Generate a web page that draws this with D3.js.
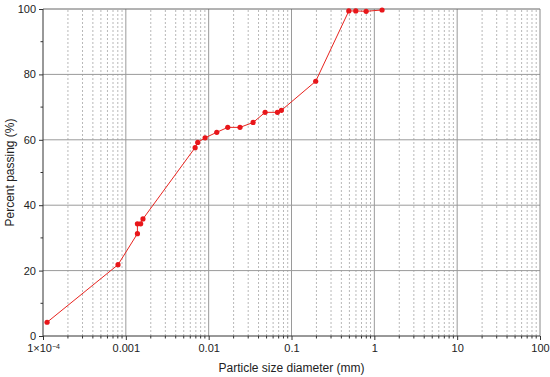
<!DOCTYPE html>
<html>
<head>
<meta charset="utf-8">
<script src="https://cdn.jsdelivr.net/npm/d3@7"></script>
<style>
  body { margin: 0; background: #fff; }
  text { font-family: "Liberation Sans", Arial, sans-serif; }
</style>
</head>
<body>
<script>
var svg_width  = 550;
var svg_height = 377;

// particle size (mm) and percent passing
var sizes   = [0.000112, 0.000805, 0.00138, 0.00138, 0.00151, 0.00161, 0.00686, 0.00738,
               0.00906, 0.01253, 0.0170, 0.0239, 0.0344, 0.048, 0.0676, 0.0755,
               0.196, 0.492, 0.597, 0.796, 1.24];
var passing = [4.2, 21.8, 31.3, 34.3, 34.3, 35.8, 57.6, 59.2,
               60.6, 62.3, 63.8, 63.8, 65.3, 68.4, 68.4, 69.0,
               77.9, 99.4, 99.4, 99.3, 99.7];

var xMajor = [1e-4, 1e-3, 1e-2, 1e-1, 1, 10, 100];
var xLabels = ["1×10", "0.001", "0.01", "0.1", "1", "10", "100"];
var yMajor = [0, 20, 40, 60, 80, 100];
var yMinor = [10, 30, 50, 70, 90];

var margin = {left: 43, right: 10, top: 9, bottom: 41};

var svg = d3.select('body').append('svg')
            .attr('width', svg_width)
            .attr('height', svg_height);

var x = d3.scaleLog()
          .domain([1e-4, 100])
          .range([margin.left, svg_width - margin.right]);
var y = d3.scaleLinear()
          .domain([0, 100])
          .range([svg_height - margin.bottom, margin.top]);

// minor ticks 2..9 for each decade
var xMinor = [];
xMajor.slice(0, -1).forEach(function(d){
    for (var k = 2; k <= 9; k++) xMinor.push(d * k);
});

var grid = svg.append("g");
grid.selectAll("line.minor")
    .data(xMinor)
    .enter().append("line")
    .attr("x1", d => x(d)).attr("x2", d => x(d))
    .attr("y1", y(0)).attr("y2", y(100))
    .attr("stroke", "#b8b8b8")
    .attr("stroke-width", 1)
    .attr("stroke-dasharray", "2,2");

grid.selectAll("line.vmajor")
    .data(xMajor.slice(1, -1))
    .enter().append("line")
    .attr("x1", d => x(d)).attr("x2", d => x(d))
    .attr("y1", y(0)).attr("y2", y(100))
    .attr("stroke", "#9a9a9a")
    .attr("stroke-width", 1);

grid.selectAll("line.hmajor")
    .data(yMajor.slice(1, -1))
    .enter().append("line")
    .attr("x1", x(1e-4)).attr("x2", x(100))
    .attr("y1", d => y(d)).attr("y2", d => y(d))
    .attr("stroke", "#9a9a9a")
    .attr("stroke-width", 1);

// frame top / right
svg.append("line")
   .attr("x1", x(1e-4)).attr("x2", x(100))
   .attr("y1", y(100)).attr("y2", y(100))
   .attr("stroke", "#666").attr("stroke-width", 1);
svg.append("line")
   .attr("x1", x(100)).attr("x2", x(100))
   .attr("y1", y(0)).attr("y2", y(100))
   .attr("stroke", "#888").attr("stroke-width", 1);

// x axis
var xAxis = d3.axisBottom(x)
              .tickValues(xMajor)
              .tickSize(4)
              .tickFormat((d, i) => xLabels[i]);
var gx = svg.append("g")
   .attr("transform", "translate(0," + y(0) + ")")
   .call(xAxis);
gx.selectAll(".tick line").attr("stroke", "#333");
gx.select(".domain").attr("stroke", "#333").attr("d", "M" + x(1e-4) + ",0H" + x(100));
gx.selectAll(".tick text").attr("font-size", 11).attr("fill", "#222").attr("dy", "0.85em");
// superscript for 1x10^-4
gx.selectAll(".tick text").filter((d, i) => i == 0)
  .append("tspan")
  .attr("dy", "-0.45em")
  .attr("font-size", 7)
  .text("−4");

gx.selectAll("line.minor")
  .data(xMinor)
  .enter().append("line")
  .attr("x1", d => x(d)).attr("x2", d => x(d))
  .attr("y1", 0).attr("y2", 2.5)
  .attr("stroke", "#333");

// y axis
var yAxis = d3.axisLeft(y)
              .tickValues(yMajor)
              .tickSize(4);
var gy = svg.append("g")
   .attr("transform", "translate(" + x(1e-4) + ",0)")
   .call(yAxis);
gy.selectAll(".tick line").attr("stroke", "#333");
gy.select(".domain").attr("stroke", "#333").attr("d", "M0," + y(0) + "V" + y(100));
gy.selectAll(".tick text").attr("font-size", 11).attr("fill", "#222").attr("x", -7);
gy.selectAll("line.minor")
  .data(yMinor)
  .enter().append("line")
  .attr("x1", -2.5).attr("x2", 0)
  .attr("y1", d => y(d)).attr("y2", d => y(d))
  .attr("stroke", "#333");

// axis titles
svg.append("text")
   .attr("x", (x(1e-4) + x(100)) / 2 + 0)
   .attr("y", 372)
   .attr("text-anchor", "middle")
   .attr("font-size", 12)
   .attr("fill", "#222")
   .text("Particle size diameter (mm)");
svg.append("text")
   .attr("transform", "translate(14," + y(50) + ") rotate(-90)")
   .attr("text-anchor", "middle")
   .attr("font-size", 12)
   .attr("fill", "#222")
   .text("Percent passing (%)");

// the curve
var data = sizes.map((d, i) => ({size: d, pass: passing[i]}));
var line = d3.line()
             .x(d => x(d.size))
             .y(d => y(d.pass));

svg.append("path")
   .datum(data)
   .attr("d", line)
   .attr("fill", "none")
   .attr("stroke", "#e8241f")
   .attr("stroke-width", 1);

svg.append("g")
   .selectAll("circle")
   .data(data)
   .enter().append("circle")
   .attr("cx", d => x(d.size))
   .attr("cy", d => y(d.pass))
   .attr("r", 2.6)
   .attr("fill", "#e8161a");
</script>
</body>
</html>
